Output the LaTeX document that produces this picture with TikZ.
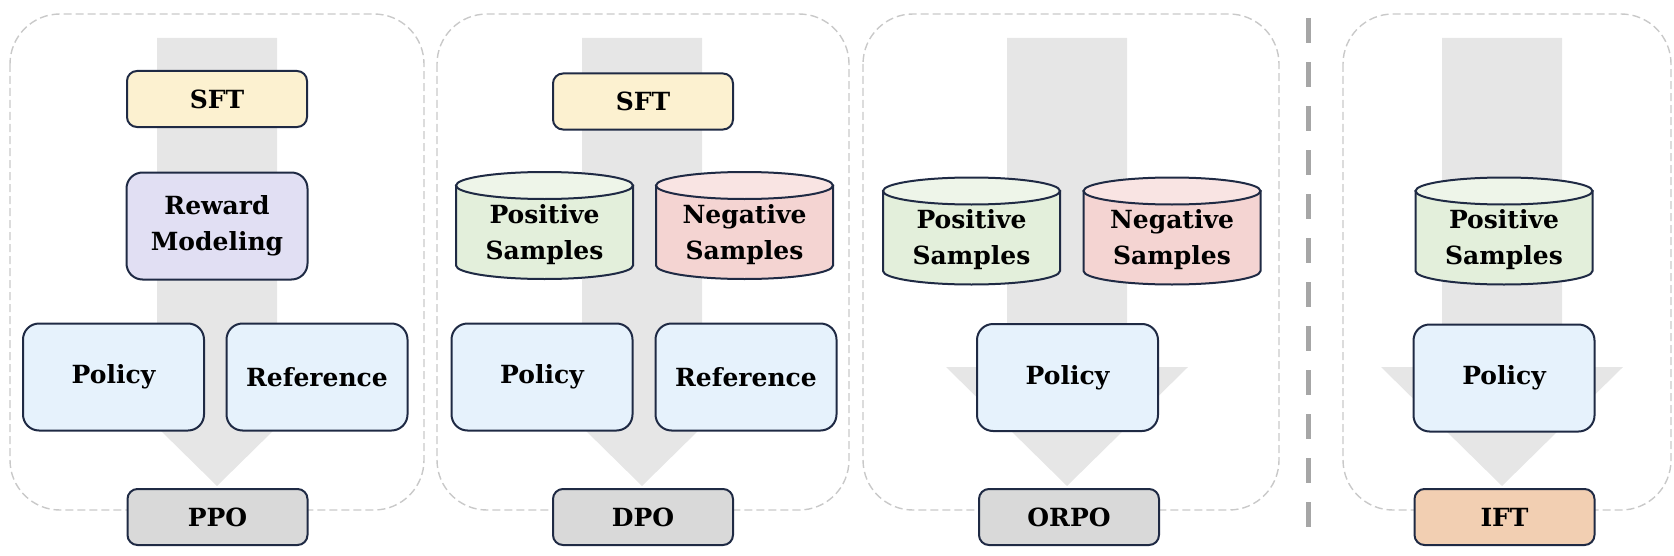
\documentclass[tikz,border=0pt]{standalone}
\usepackage{fontspec}
\setmainfont{DejaVu Serif}
\usepackage{tikz}
\usepackage{color}

\definecolor{navy}{HTML}{1F2A44}
\definecolor{sftfill}{HTML}{FCF1D0}
\definecolor{rmfill}{HTML}{E1DFF3}
\definecolor{polfill}{HTML}{E6F2FC}
\definecolor{posfill}{HTML}{E3EFDB}
\definecolor{postop}{HTML}{EEF5E9}
\definecolor{negfill}{HTML}{F4D4D2}
\definecolor{negtop}{HTML}{F9E4E3}
\definecolor{outfill}{HTML}{D9D9D9}
\definecolor{iftfill}{HTML}{F2CFB2}
\definecolor{arrowgray}{HTML}{E6E6E6}
\definecolor{panelgray}{HTML}{C9C9C9}
\definecolor{divgray}{HTML}{A6A6A6}

\begin{document}
\begin{tikzpicture}[x=0.5pt, y=-0.5pt,
    font=\bfseries\fontsize{12.5}{18}\selectfont,
    box/.style={draw=navy, line width=1pt, align=center, inner sep=0pt},
    small/.style={box, rounded corners=5pt, minimum width=90pt, minimum height=28pt},
    big/.style={box, rounded corners=8pt, minimum width=90.5pt, minimum height=53.5pt, fill=polfill},
    cyltext/.style={align=center, inner sep=0pt},
    cylline/.style={draw=navy, line width=1pt},
    panel/.style={draw=panelgray, line width=0.7pt, dash pattern=on 4pt off 2pt, rounded corners=25pt},
    divider/.style={draw=divgray, line width=2.5pt, dash pattern=on 12.5pt off 9.5pt}]

    \useasboundingbox (0,0) rectangle (1674,556);

    \draw[panel] (10,14) rectangle (424,510);
    \draw[panel] (437,14) rectangle (849,510);
    \draw[panel] (863,14) rectangle (1279,510);
    \draw[panel] (1343,14) rectangle (1671,510);

    \draw[divider] (1308,18) -- (1308,534);

    \foreach \x in {217,642,1067,1502}
        \fill[arrowgray] (\x-60,38) -- (\x+60,38) -- (\x+60,367) -- (\x+121,367) -- (\x,486) -- (\x-121,367) -- (\x-60,367) -- cycle;

    \foreach \x/\y/\c in {544.5/225.5/pos, 744.5/225.5/neg, 971.5/231/pos, 1172/231/neg, 1504/231/pos} {
        \draw[cylline, fill=\c fill] (\x-88.5,\y-40) -- (\x-88.5,\y+40) arc[start angle=180, end angle=360, x radius=44.25pt, y radius=6.75pt] -- (\x+88.5,\y-40) -- cycle;
        \draw[cylline, fill=\c top] (\x,\y-40) ellipse[x radius=44.25pt, y radius=6.75pt];
    }

    \node[small, fill=sftfill] (0) at (217,99) {SFT};
    \node[big, fill=rmfill] (1) at (217,226) {Reward\\Modeling};
    \node[big] (2) at (113.5,377) {Policy};
    \node[big] (3) at (317,377) {Reference};
    \node[small, fill=outfill] (4) at (217.5,517) {PPO};

    \node[small, fill=sftfill] (5) at (643,101.5) {SFT};
    \node[cyltext] (6) at (544.5,235) {Positive\\Samples};
    \node[cyltext] (7) at (744.5,235) {Negative\\Samples};
    \node[big] (8) at (542,377) {Policy};
    \node[big] (9) at (746,377) {Reference};
    \node[small, fill=outfill] (10) at (643,517) {DPO};

    \node[cyltext] (11) at (971.5,240) {Positive\\Samples};
    \node[cyltext] (12) at (1172,240) {Negative\\Samples};
    \node[big] (13) at (1067.5,377.5) {Policy};
    \node[small, fill=outfill] (14) at (1069,517) {ORPO};

    \node[cyltext] (15) at (1504,240) {Positive\\Samples};
    \node[big] (16) at (1504,378) {Policy};
    \node[small, fill=iftfill] (17) at (1504.5,517) {IFT};
\end{tikzpicture}
\end{document}
